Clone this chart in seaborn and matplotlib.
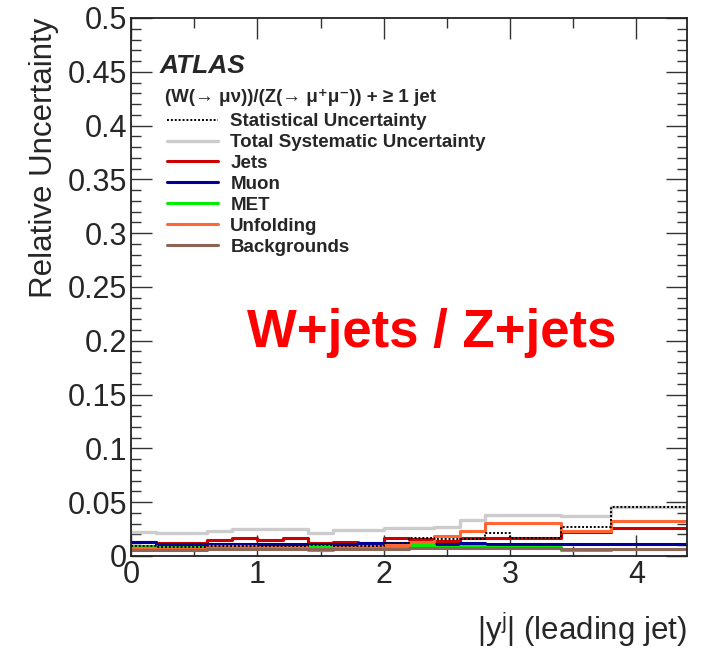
import numpy as np
import pandas as pd
import matplotlib
matplotlib.use("Agg")
import matplotlib.pyplot as plt
from matplotlib.lines import Line2D
import seaborn as sns

# |y| of the leading jet: bin edges
edges = [0.0, 0.2, 0.4, 0.6, 0.8, 1.0, 1.2, 1.4, 1.6, 1.8, 2.0,
         2.2, 2.4, 2.6, 2.8, 3.0, 3.4, 3.8, 4.4]

# relative uncertainties per bin
stat = [0.0090, 0.0085, 0.0085, 0.0090, 0.0090, 0.0095, 0.0095, 0.0098, 0.0090,
        0.0095, 0.0120, 0.0165, 0.0158, 0.0158, 0.0217, 0.0170, 0.0270, 0.0452]
total_syst = [0.0226, 0.0210, 0.0210, 0.0235, 0.0248, 0.0248, 0.0248, 0.0210, 0.0240,
              0.0240, 0.0260, 0.0257, 0.0270, 0.0335, 0.0380, 0.0380, 0.0370, 0.0452]
jets = [0.0133, 0.0118, 0.0118, 0.0149, 0.0164, 0.0149, 0.0170, 0.0124, 0.0127,
        0.0124, 0.0164, 0.0155, 0.0135, 0.0170, 0.0170, 0.0164, 0.0225, 0.0257]
muon = [0.0125, 0.0115, 0.0115, 0.0115, 0.0115, 0.0115, 0.0115, 0.0113, 0.0115,
        0.0118, 0.0118, 0.0115, 0.0108, 0.0120, 0.0108, 0.0115, 0.0110, 0.0110]
met = [0.0090, 0.0080, 0.0080, 0.0085, 0.0080, 0.0080, 0.0080, 0.0095, 0.0078,
       0.0080, 0.0085, 0.0105, 0.0087, 0.0090, 0.0085, 0.0080, 0.0056, 0.0060]
unfolding = [0.0075, 0.0075, 0.0075, 0.0090, 0.0090, 0.0087, 0.0087, 0.0056, 0.0080,
             0.0090, 0.0100, 0.0130, 0.0186, 0.0232, 0.0304, 0.0310, 0.0235, 0.0325]
backgrounds = [0.0056, 0.0056, 0.0056, 0.0060, 0.0065, 0.0065, 0.0065, 0.0060, 0.0065,
               0.0065, 0.0068, 0.0070, 0.0070, 0.0070, 0.0070, 0.0070, 0.0060, 0.0060]

labels = ["Statistical Uncertainty", "Total Systematic Uncertainty", "Jets",
          "Muon", "MET", "Unfolding", "Backgrounds"]

sns.set_style("ticks")
plt.rcParams["font.family"] = ["Liberation Sans", "DejaVu Sans"]

edges_arr = np.array(edges)
centers = 0.5 * (edges_arr[:-1] + edges_arr[1:])

frame = pd.DataFrame({
    "y": np.tile(centers, 7),
    "unc": np.concatenate([stat, total_syst, jets, muon, met, unfolding, backgrounds]),
    "source": np.repeat(labels, len(centers)),
})

styles = {
    "Total Systematic Uncertainty": dict(color="#cccccc", lw=2.4, ls="-"),
    "Jets": dict(color="#cc0000", lw=2.2, ls="-"),
    "Muon": dict(color="#000099", lw=2.2, ls="-"),
    "MET": dict(color="#00ee00", lw=2.2, ls="-"),
    "Unfolding": dict(color="#ff6633", lw=2.2, ls="-"),
    "Backgrounds": dict(color="#8c6554", lw=2.2, ls="-"),
    "Statistical Uncertainty": dict(color="black", lw=1.4, ls=(0, (1, 1))),
}
draw_order = ["Total Systematic Uncertainty", "Jets", "Muon", "MET",
              "Unfolding", "Backgrounds", "Statistical Uncertainty"]

fig = plt.figure(figsize=(7.01, 6.54), dpi=100)
ax = fig.add_axes([0.187, 0.150, 0.793, 0.8225])

for name in draw_order:
    st = styles[name]
    sub = frame[frame["source"] == name]
    sns.histplot(data=sub, x="y", weights="unc", bins=edges, element="step",
                 fill=False, color=st["color"], linewidth=st["lw"],
                 linestyle=st["ls"], ax=ax)

ax.set_xlim(0, 4.4)
ax.set_ylim(0, 0.5)
ax.set_xticks([0, 1, 2, 3, 4])
ax.set_xticks(np.arange(0.5, 4.4, 1.0), minor=True)
ax.set_yticks(np.arange(0, 0.501, 0.05))
ax.set_yticks(np.arange(0, 0.501, 0.01), minor=True)
ax.set_yticklabels(["0", "0.05", "0.1", "0.15", "0.2", "0.25", "0.3",
                    "0.35", "0.4", "0.45", "0.5"])
ax.tick_params(which="both", direction="in", top=True, right=True,
               labelsize=22, width=1.0, color="#333333")
ax.tick_params(which="major", length=15, pad=3)
ax.tick_params(which="minor", length=7)
for sp in ax.spines.values():
    sp.set_linewidth(1.3)
    sp.set_color("#222222")

ax.set_xlabel("|y$^{\\mathregular{j}}$| (leading jet)", fontsize=22.5, loc="right", labelpad=14)
ax.set_ylabel("Relative Uncertainty", fontsize=22.5, loc="top", labelpad=6)

ax.text(0.052, 0.91, "ATLAS", transform=ax.transAxes, fontsize=19,
        fontweight="bold", fontstyle="italic", va="center")
ax.text(0.061, 0.853, "(W(\u2192 \u03bc\u03bd))/(Z(\u2192 \u03bc\u207a\u03bc\u207b)) + \u2265 1 jet",
        transform=ax.transAxes, fontsize=13.5, fontweight="bold", va="center")

handles = [Line2D([], [], color=styles[n]["color"], lw=styles[n]["lw"],
                  ls=styles[n]["ls"]) for n in labels]
leg = ax.legend(handles, labels, loc="upper left", bbox_to_anchor=(0.052, 0.837),
                frameon=False, fontsize=13.5, handlelength=2.7, handletextpad=0.65,
                labelspacing=0.2, borderaxespad=0.0)
for t in leg.get_texts():
    t.set_fontweight("bold")

ax.text(0.54, 0.415, "W+jets / Z+jets", transform=ax.transAxes, fontsize=38,
        fontweight="bold", color="#ff0000", ha="center", va="center")

fig.savefig("out.png", dpi=100)
